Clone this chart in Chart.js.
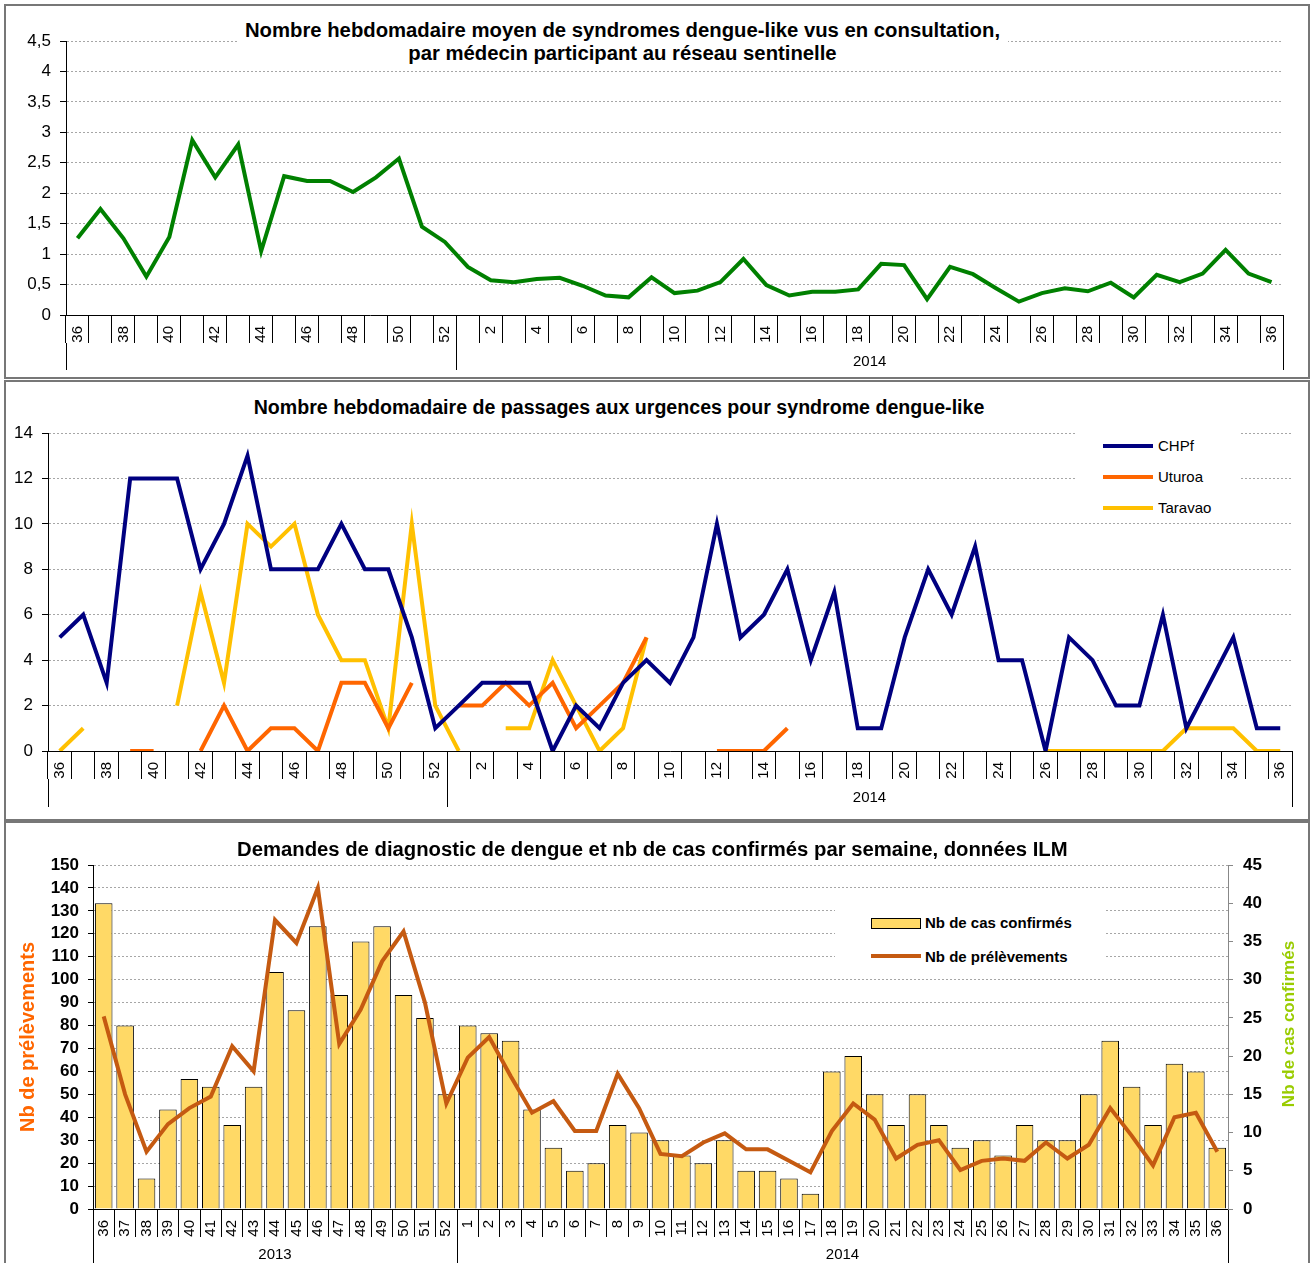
<!DOCTYPE html>
<html><head><meta charset="utf-8">
<script src="https://cdn.jsdelivr.net/npm/chart.js"></script>
<style>
html,body{margin:0;padding:0;background:#fff}
body{width:1311px;height:1263px;overflow:hidden;position:relative;font-family:"Liberation Sans",Arial,sans-serif;color:#000}
.panel{position:absolute;left:4px;width:1306px;border:2px solid #777;box-sizing:border-box;background:#fff}
.cw{position:absolute;left:6px;width:1302px}
.cw canvas{display:block}
.title{position:absolute;background:#fff;font-weight:bold;text-align:center;white-space:nowrap;font-size:20px;line-height:23px}
.leg{position:absolute;background:#fff}
.li{position:absolute;white-space:nowrap}
.sw{position:absolute}
</style></head><body>
<div class="panel" style="top:4px;height:375px"></div>
<div class="panel" style="top:380px;height:441px"></div>
<div class="panel" style="top:821px;height:460px"></div>

<div class="cw" style="top:6px;height:372px"><canvas id="c1" width="1302" height="372"></canvas></div>
<div class="cw" style="top:382px;height:437px"><canvas id="c2" width="1302" height="437"></canvas></div>
<div class="cw" style="top:823px;height:455px"><canvas id="c3" width="1302" height="455"></canvas></div>

<div class="title" style="left:237px;top:19px;width:771px;height:47px;font-size:20.3px">Nombre hebdomadaire moyen de syndromes dengue-like vus en consultation,<br>par médecin participant au réseau sentinelle</div>
<div class="title" style="left:219px;top:396px;width:800px;height:23px;font-size:19.6px">Nombre hebdomadaire de passages aux urgences pour syndrome dengue-like</div>
<div class="title" style="left:237px;top:838px;width:800px;height:23px;font-size:20.3px">Demandes de diagnostic de dengue et nb de cas confirmés par semaine, données ILM</div>

<div class="leg" style="left:1075px;top:425px;width:166px;height:95px">
  <div class="sw" style="left:28px;top:19px;width:50px;height:4px;background:#000080"></div>
  <div class="li" style="left:83px;top:12px;font-size:15px">CHPf</div>
  <div class="sw" style="left:28px;top:50px;width:50px;height:4px;background:#FF6600"></div>
  <div class="li" style="left:83px;top:43px;font-size:15px">Uturoa</div>
  <div class="sw" style="left:28px;top:81px;width:50px;height:4px;background:#FFC000"></div>
  <div class="li" style="left:83px;top:74px;font-size:15px">Taravao</div>
</div>

<div class="leg" style="left:835px;top:900px;width:270px;height:67px">
  <div class="sw" style="left:36px;top:18px;width:48px;height:9px;background:#FFD966;border:1px solid #000"></div>
  <div class="li" style="left:90px;top:14px;font-size:15px;font-weight:bold">Nb de cas confirmés</div>
  <div class="sw" style="left:36px;top:54px;width:50px;height:4px;background:#C55A11"></div>
  <div class="li" style="left:90px;top:48px;font-size:15px;font-weight:bold">Nb de prélèvements</div>
</div>

<div style="position:absolute;left:1189px;top:1013px;width:200px;height:22px;line-height:22px;text-align:center;transform:rotate(-90deg);color:#99CC00;font-weight:bold;font-size:17px;white-space:nowrap">Nb de cas confirmés</div>

<script>
// ---------- data ----------
const weeks = ["36","37","38","39","40","41","42","43","44","45","46","47","48","49","50","51","52",
  "1","2","3","4","5","6","7","8","9","10","11","12","13","14","15","16","17","18","19","20",
  "21","22","23","24","25","26","27","28","29","30","31","32","33","34","35","36"];
const yearLabels = ["2013","2014"];

const consultRate = [1.26,1.74,1.26,0.63,1.28,2.87,2.26,2.80,1.05,2.28,2.20,2.20,2.02,2.26,2.57,1.45,1.20,
  0.79,0.57,0.54,0.59,0.61,0.48,0.32,0.29,0.62,0.36,0.40,0.54,0.92,0.49,0.32,0.38,0.38,0.42,0.84,0.82,
  0.26,0.79,0.67,0.44,0.22,0.36,0.44,0.39,0.53,0.29,0.66,0.54,0.68,1.07,0.68,0.54];

const chpf = [5,6,3,12,12,12,8,10,13,8,8,8,10,8,8,5,1,
  2,3,3,3,0,2,1,3,4,3,5,10,5,6,8,4,7,1,1,5,
  8,6,9,4,4,0,5,4,2,2,6,1,3,5,1,1];
const uturoa = [null,null,null,0,0,null,0,2,0,1,1,0,3,3,1,3,null,
  2,2,3,2,3,1,2,3,5,null,null,0,0,0,1,null,null,null,null,null,
  null,null,null,null,null,null,null,null,null,null,null,null,null,null,null,null];
const taravao = [0,1,null,null,null,2,7,3,10,9,10,6,4,4,1,10,2,
  0,null,1,1,4,2,0,1,5,null,null,null,null,null,null,null,null,null,null,null,
  null,null,null,null,null,0,0,0,0,0,0,1,1,1,0,0];

const confirmedCases = [40,24,4,13,17,16,11,16,31,26,37,28,35,37,28,25,15,
  24,23,22,13,8,5,6,11,10,9,7,6,9,5,5,4,2,18,20,15,
  11,15,11,8,9,7,11,9,9,15,22,16,11,19,18,8];
const samples = [84,50,25,37,44,49,71,60,126,116,140,72,87,108,121,90,46,
  66,75,58,42,47,34,34,59,44,24,23,29,33,26,26,21,16,34,46,39,
  22,28,30,17,21,22,21,29,22,28,44,32,19,40,42,25];

// ---------- helpers ----------
Chart.defaults.font.family = '"Liberation Sans", Arial, sans-serif';
Chart.defaults.color = '#000';

function weekAxis(every, size, pad){
  return {
    type:'category', offset:true,
    grid:{offset:true, drawOnChartArea:false, drawTicks:true, tickLength:28, color:'#000', tickColor:'#000', lineWidth:1},
    border:{display:true, color:'#000', width:1},
    ticks:{autoSkip:false, minRotation:90, maxRotation:90, padding:pad, color:'#000', font:{size:size},
      callback:(v,i)=> (i % every === 0) ? weeks[i] : ''},
    afterFit:s=>{ s.height = 28; }
  };
}
function yearAxis(showFirst, tl, pad){
  const n = weeks.length;
  const b = weeks.indexOf('1') - 0.5;
  const lines = [-0.5, b, n - 0.5];
  const centers = [(-0.5 + b) / 2, (b + n - 0.5) / 2];
  const isCenter = v => centers.indexOf(v) >= 0;
  const col = c => (c.tick && isCenter(c.tick.value)) ? 'rgba(0,0,0,0)' : '#000';
  return {
    type:'linear', position:'bottom', min:-0.5, max:n - 0.5, offset:false,
    afterBuildTicks:s=>{ s.ticks = lines.concat(centers).sort((a,c)=>a-c).map(v=>({value:v})); },
    grid:{offset:false, drawOnChartArea:false, drawTicks:true, tickLength:tl, color:col, tickColor:col, lineWidth:1},
    border:{display:false},
    ticks:{autoSkip:false, minRotation:0, maxRotation:0, padding:pad, color:'#000', font:{size:15},
      callback:(v)=>{ const k = centers.indexOf(v); if (k < 0) return ''; if (k === 0 && !showFirst) return ''; return yearLabels[k]; }},
    afterFit:s=>{ s.height = tl; }
  };
}
const dotted = {color:'#a6a6a6', tickColor:'#000', tickLength:6, tickBorderDash:[], lineWidth:1};
const commaFmt = v => String(v).replace('.', ',');

// ---------- chart 1 ----------
new Chart(document.getElementById('c1'), {
  type:'line',
  data:{labels:weeks, datasets:[{data:consultRate, borderColor:'#008000', borderWidth:4, pointRadius:0, tension:0, fill:false, xAxisID:'x', yAxisID:'y'}]},
  options:{
    responsive:false, animation:false, events:[],
    layout:{padding:{left:10, right:25, top:35, bottom:8}},
    plugins:{legend:{display:false}, tooltip:{enabled:false}, title:{display:false}},
    scales:{
      x: weekAxis(2, 15, -17),
      x2: yearAxis(false, 27, -17),
      y:{min:0, max:4.5, ticks:{stepSize:0.5, autoSkip:false, padding:9, font:{size:17}, callback:commaFmt},
         grid:dotted, border:{color:'#000', dash:[2,2]}, afterFit:s=>{ s.width = 50; }}
    }
  }
});

// ---------- chart 2 ----------
new Chart(document.getElementById('c2'), {
  type:'line',
  data:{labels:weeks, datasets:[
    {label:'CHPf', data:chpf, borderColor:'#000080', borderWidth:4, pointRadius:0, tension:0, fill:false, xAxisID:'x', yAxisID:'y'},
    {label:'Uturoa', data:uturoa, borderColor:'#FF6600', borderWidth:4, pointRadius:0, tension:0, fill:false, xAxisID:'x', yAxisID:'y'},
    {label:'Taravao', data:taravao, borderColor:'#FFC000', borderWidth:4, pointRadius:0, tension:0, fill:false, xAxisID:'x', yAxisID:'y'}
  ]},
  options:{
    responsive:false, animation:false, events:[],
    layout:{padding:{left:6, right:16, top:51, bottom:12}},
    plugins:{legend:{display:false}, tooltip:{enabled:false}},
    scales:{
      x: weekAxis(2, 15, -17),
      x2: yearAxis(false, 28, -18),
      y:{min:0, max:14, ticks:{stepSize:2, autoSkip:false, padding:9, font:{size:17}},
         grid:dotted, border:{color:'#000', dash:[2,2]}, afterFit:s=>{ s.width = 36; }}
    }
  }
});

// ---------- chart 3 ----------
new Chart(document.getElementById('c3'), {
  type:'bar',
  data:{labels:weeks, datasets:[
    {type:'line', label:'Nb de prélèvements', data:samples, borderColor:'#C55A11', backgroundColor:'#C55A11', borderWidth:4, pointRadius:0, tension:0, fill:false, xAxisID:'x', yAxisID:'y', order:1},
    {type:'bar', label:'Nb de cas confirmés', data:confirmedCases, backgroundColor:'#FFD966', borderColor:'#000', borderWidth:1, barPercentage:0.82, categoryPercentage:1, xAxisID:'x', yAxisID:'y1', order:2}
  ]},
  options:{
    responsive:false, animation:false, events:[],
    layout:{padding:{left:6, right:5, top:42, bottom:6}},
    plugins:{legend:{display:false}, tooltip:{enabled:false}},
    scales:{
      x: weekAxis(1, 15, -17),
      x2: yearAxis(true, 35, -26),
      y:{position:'left', min:0, max:150, ticks:{stepSize:10, autoSkip:false, padding:9, font:{size:17, weight:'bold'}},
         grid:{color:'#a6a6a6', tickColor:'#000', tickLength:5, tickBorderDash:[], lineWidth:1}, border:{color:'#000', dash:[2,2]},
         title:{display:true, text:'Nb de prélèvements', color:'#FF6600', font:{size:20, weight:'bold'}, padding:{top:4, bottom:0}},
         afterFit:s=>{ s.width = 81; }},
      y1:{position:'right', min:0, max:45, ticks:{stepSize:5, autoSkip:false, padding:10, font:{size:17, weight:'bold'}},
         grid:{drawOnChartArea:false, color:'#888', tickColor:'#888', tickLength:5}, border:{color:'#888'},
         afterFit:s=>{ s.width = 75; }}
    }
  }
});
</script>
</body></html>
